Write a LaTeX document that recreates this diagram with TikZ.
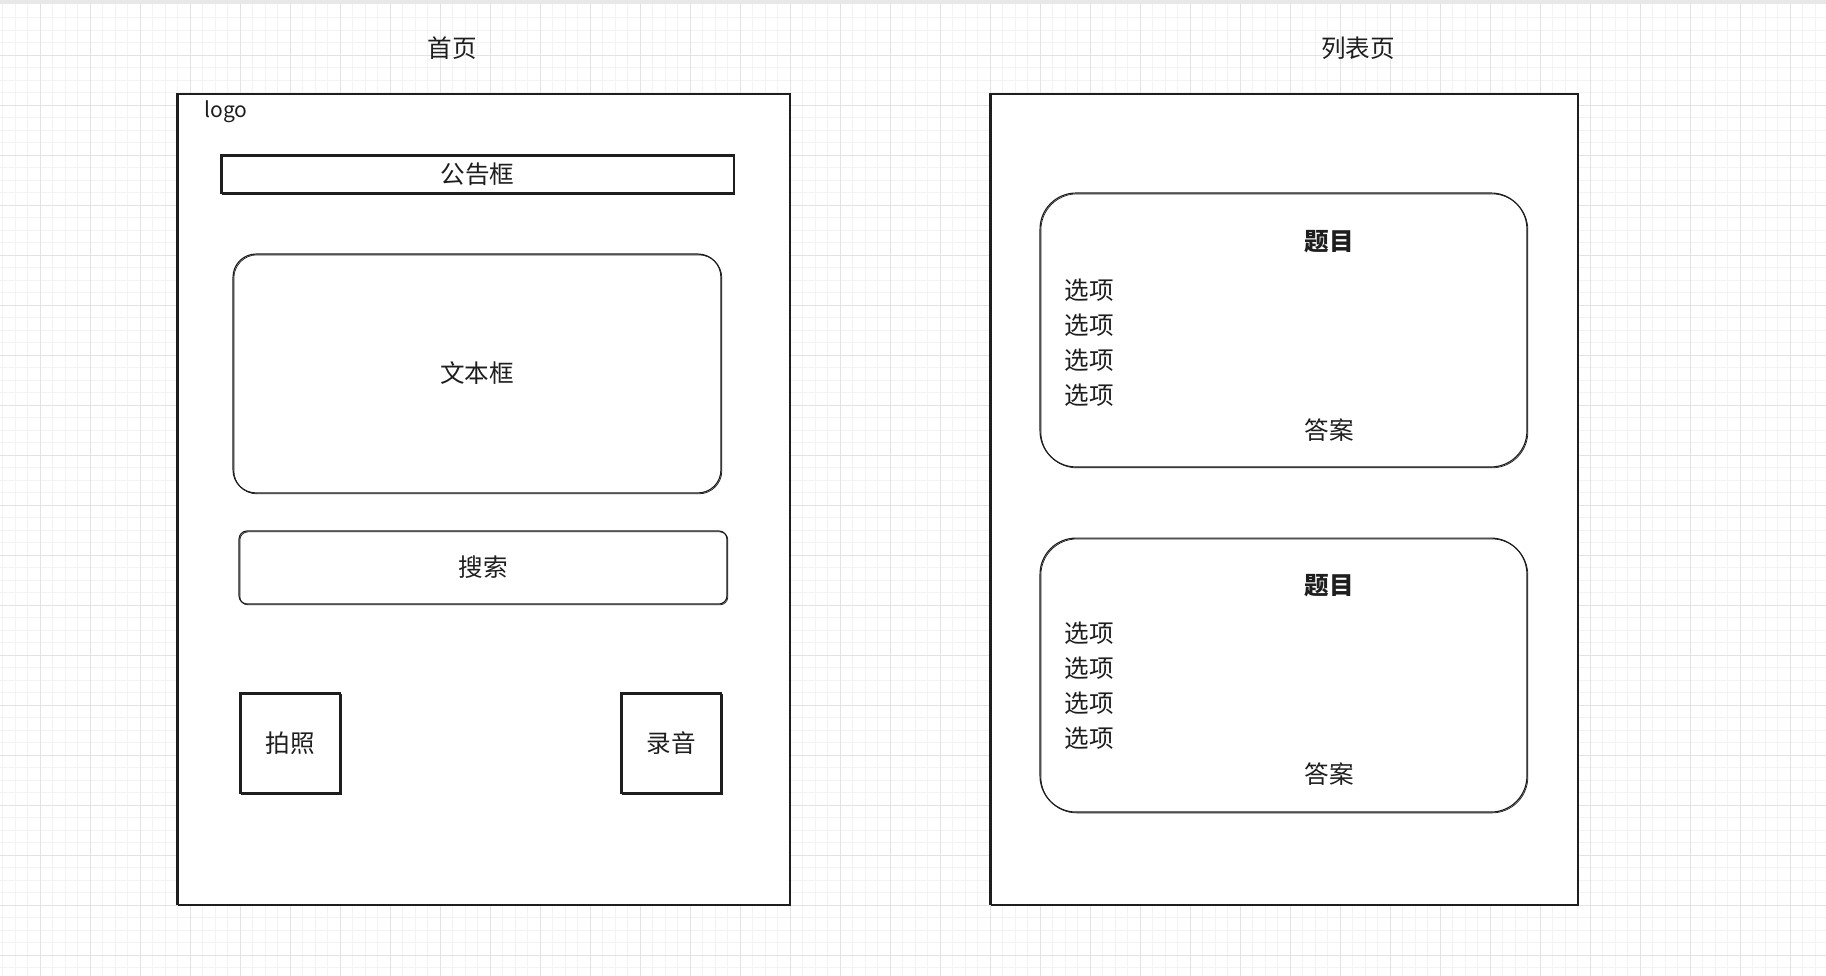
\documentclass[tikz,border=0pt]{standalone}
\usepackage{fontspec}
\setmainfont{Noto Sans CJK SC}
\usepackage{xcolor}
\usepackage{tikz}
\usetikzlibrary{positioning}

\definecolor{ink}{HTML}{1E1E1E}
\definecolor{gridfine}{HTML}{F3F3F3}
\definecolor{gridbold}{HTML}{E3E3E3}

\begin{document}
\begin{tikzpicture}[
    x=0.02cm, y=-0.02cm,
    font=\fontsize{14}{16}\selectfont,
    sketch/.style={draw=ink, line width=0.65pt, fill=white,
                   postaction={draw=ink, line width=0.4pt,
                               transform canvas={xshift=0.5pt, yshift=-0.5pt}}},
    page/.style={sketch, rectangle, minimum height=16.24cm, inner sep=0pt},
    bar/.style={sketch, rectangle, inner sep=0pt, text=ink},
    card/.style={sketch, rectangle, rounded corners=0.72cm,
                 minimum width=9.74cm, minimum height=5.48cm, inner sep=0pt},
    btn/.style={sketch, rectangle, minimum width=2cm, minimum height=2cm,
                inner sep=0pt, text=ink},
    label/.style={text=ink, inner sep=1pt}
]
    \useasboundingbox (0,0) rectangle (1826,976);
    % background grid
    \fill[gray!18] (0,0) rectangle (1826,4);
    \foreach \gx in {2.5,15,...,1826} \draw[gridfine, line width=0.4pt] (\gx,4) -- (\gx,976);
    \foreach \gy in {17.5,30,...,976} \draw[gridfine, line width=0.4pt] (0,\gy) -- (1826,\gy);
    \foreach \gx in {40,90,...,1826} \draw[gridbold, line width=0.5pt] (\gx,4) -- (\gx,976);
    \foreach \gy in {55,105,...,976} \draw[gridbold, line width=0.5pt] (0,\gy) -- (1826,\gy);

    % home page
    \node[label] (hometitle) at (452,48) {首页};
    \node[page, minimum width=12.26cm] (home) at (483.5,499) {};
    \node[label, font=\fontsize{12}{14}\selectfont] (logo) at (226,112) {logo};
    \node[bar, minimum width=10.26cm, minimum height=0.76cm] (notice) at (477.5,174) {公告框};
    \node[bar, rounded corners=0.46cm, minimum width=9.76cm, minimum height=4.78cm] (textbox) at (477,373.5) {文本框};
    \node[bar, rounded corners=0.16cm, minimum width=9.76cm, minimum height=1.46cm] (search) at (483,567.5) {搜索};
    \node[btn] (photo) at (290,743) {拍照};
    \node[btn] (record) at (671,743) {录音};

    % list page
    \node[label] (listtitle) at (1358,48) {列表页};
    \node[page, minimum width=11.76cm] (list) at (1284,499) {};
    \node[card] (card1) at (1283.5,330) {};
    \node[card, below=1.4cm of card1] (card2) {};

    \node[label, font=\fontsize{14}{16}\selectfont\bfseries] (q1) at (1329,242) {题目};
    \node[label] (opt1a) at (1089,290) {选项};
    \node[label, on grid, below=0.7cm of opt1a] (opt1b) {选项};
    \node[label, on grid, below=0.7cm of opt1b] (opt1c) {选项};
    \node[label, on grid, below=0.7cm of opt1c] (opt1d) {选项};
    \node[label] (ans1) at (1329,430) {答案};

    \node[label, font=\fontsize{14}{16}\selectfont\bfseries] (q2) at (1329,586) {题目};
    \node[label] (opt2a) at (1089,633) {选项};
    \node[label, on grid, below=0.7cm of opt2a] (opt2b) {选项};
    \node[label, on grid, below=0.7cm of opt2b] (opt2c) {选项};
    \node[label, on grid, below=0.7cm of opt2c] (opt2d) {选项};
    \node[label] (ans2) at (1329,774) {答案};
\end{tikzpicture}
\end{document}
